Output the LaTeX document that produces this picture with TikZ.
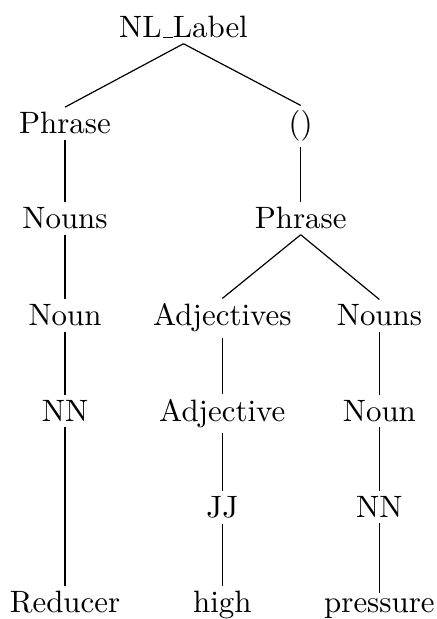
\documentclass[tikz,border=0pt]{standalone}
\usepackage{fontspec}
\newfontfamily\lmten{lmroman10-regular.otf}
\begin{document}
\begin{tikzpicture}[x=1pt,y=1pt,
  tn/.style={anchor=base, inner sep=2.5pt, font=\lmten\fontsize{15.45pt}{18pt}\selectfont},
  edge/.style={line width=0.6pt}]
\useasboundingbox (0,0) rectangle (218,-309.5);
\node[tn] (root) at (91.75,-19) {NL\kern.06em\vbox{\hrule width .3em}Label};
\node[tn] (p1) at (32.5,-67) {Phrase};
\node[tn] (par) at (150.35,-67) {()};
\node[tn] (ns1) at (32.5,-114.5) {Nouns};
\node[tn] (p2) at (150.35,-114.5) {Phrase};
\node[tn] (n1) at (32.5,-163) {Noun};
\node[tn] (adjs) at (111.15,-163) {Adjectives};
\node[tn] (ns2) at (189.7,-163) {Nouns};
\node[tn] (nn1) at (32.5,-210.85) {NN};
\node[tn] (adj) at (111.15,-210.85) {Adjective};
\node[tn] (n2) at (189.7,-210.85) {Noun};
\node[tn] (jj) at (111.15,-258.85) {JJ};
\node[tn] (nn2) at (189.7,-258.85) {NN};
\node[tn] (w1) at (32.5,-306.35) {Reducer};
\node[tn] (w2) at (111.15,-306.35) {high};
\node[tn] (w3) at (189.7,-306.35) {pressure};
\draw[edge] (root.south) -- (p1.north);
\draw[edge] (root.south) -- (par.north);
\draw[edge] (p1.south) -- (ns1.north);
\draw[edge] (ns1.south) -- (n1.north);
\draw[edge] (n1.south) -- (nn1.north);
\draw[edge] (nn1.south) -- (w1.north);
\draw[edge] (par.south) -- (p2.north);
\draw[edge] (p2.south) -- (adjs.north);
\draw[edge] (p2.south) -- (ns2.north);
\draw[edge] (adjs.south) -- (adj.north);
\draw[edge] (adj.south) -- (jj.north);
\draw[edge] (jj.south) -- (w2.north);
\draw[edge] (ns2.south) -- (n2.north);
\draw[edge] (n2.south) -- (nn2.north);
\draw[edge] (nn2.south) -- (w3.north);
\end{tikzpicture}
\end{document}
